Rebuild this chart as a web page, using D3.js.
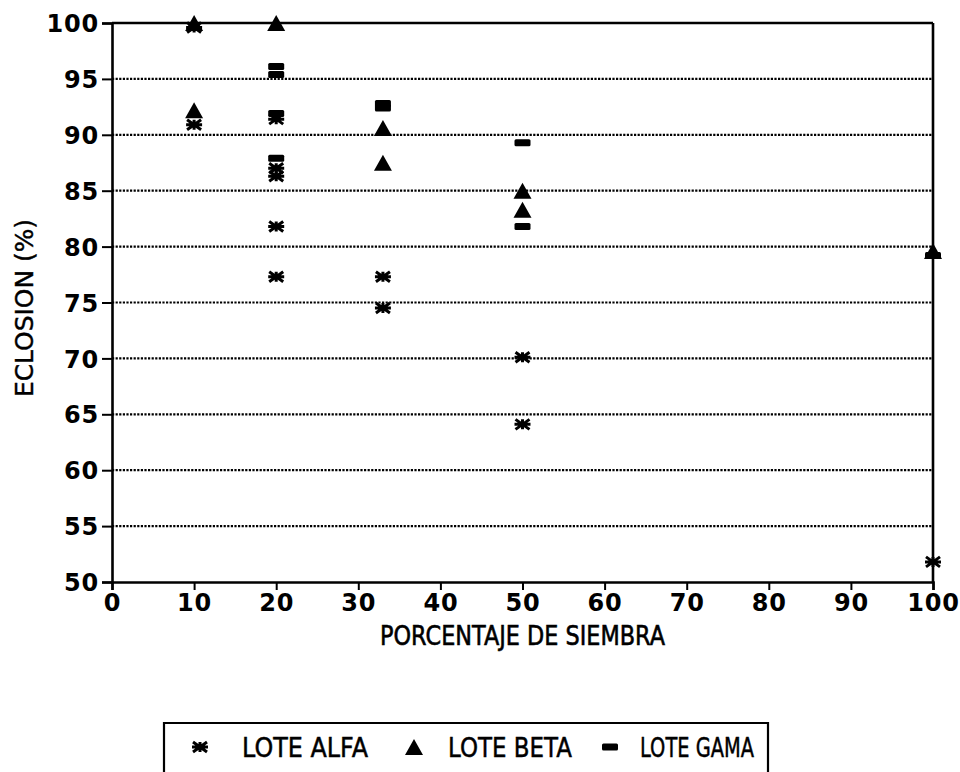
<!DOCTYPE html>
<html>
<head>
<meta charset="utf-8">
<script src="https://cdn.jsdelivr.net/npm/d3@7"></script>
<style>
  html, body { margin: 0; padding: 0; background: #fff; }
  svg { display: block; }
</style>
</head>
<body>
<svg id="chart" width="960" height="772"></svg>
<script>
// Hatching percentage by seeding percentage, three batches.
const loteAlfa = [[10, 99.6], [10, 90.9], [20, 91.4], [20, 87.0], [20, 86.3], [20, 81.8], [20, 77.3],
                  [33, 77.3], [33, 74.5], [50, 70.1], [50, 64.1], [100, 51.8]];
const loteBeta = [[10, 100], [10, 92.2], [20, 100], [33, 90.6], [33, 87.5], [50, 85.0], [50, 83.3], [100, 79.6]];
const loteGama = [[20, 96.1], [20, 95.4], [20, 91.9], [20, 87.9], [33, 92.8], [33, 92.4], [50, 89.3], [50, 81.8], [100, 79.2]];

const xTicks = [0, 10, 20, 30, 40, 50, 60, 70, 80, 90, 100];
const yTicks = [50, 55, 60, 65, 70, 75, 80, 85, 90, 95, 100];
const legendLabels = ["LOTE ALFA", "LOTE BETA", "LOTE GAMA"];

const svg = d3.select("#chart");
const plotLeft = 112, plotRight = 933, plotTop = 23, plotBottom = 582;

const x = d3.scaleLinear().domain([0, 100]).range([plotLeft, plotRight]);
const y = d3.scaleLinear().domain([50, 100]).range([plotBottom, plotTop]);

const ink = "#000";
const tickFont = "'DejaVu Sans', sans-serif";

// dotted horizontal grid
svg.append("g")
  .selectAll("line")
  .data(yTicks.filter(t => t > 50 && t < 100))
  .join("line")
  .attr("x1", plotLeft).attr("x2", plotRight)
  .attr("y1", d => y(d)).attr("y2", d => y(d))
  .attr("stroke", ink)
  .attr("stroke-width", 2.2)
  .attr("stroke-dasharray", "2.2,1.4");

// frame: top and right border
svg.append("line").attr("x1", plotLeft).attr("x2", plotRight).attr("y1", y(100)).attr("y2", y(100))
  .attr("stroke", ink).attr("stroke-width", 2.6);
svg.append("line").attr("x1", plotRight).attr("x2", plotRight).attr("y1", y(100)).attr("y2", y(50))
  .attr("stroke", ink).attr("stroke-width", 2.6);

// axes
const yAxis = d3.axisLeft(y).tickValues(yTicks).tickSize(10).tickPadding(3).tickFormat(d3.format("d"));
const xAxis = d3.axisBottom(x).tickValues(xTicks).tickSize(8).tickPadding(3).tickFormat(d3.format("d"));

const gy = svg.append("g").attr("transform", `translate(${plotLeft},0)`).call(yAxis);
const gx = svg.append("g").attr("transform", `translate(0,${plotBottom})`).call(xAxis);

[gx, gy].forEach(g => {
  g.select(".domain").attr("stroke", ink).attr("stroke-width", 2.6);
  g.selectAll(".tick line").attr("stroke", ink).attr("stroke-width", 2);
  g.selectAll(".tick text")
    .attr("fill", ink)
    .attr("font-family", tickFont)
    .attr("font-weight", "bold")
    .attr("font-size", 24)
    .attr("letter-spacing", 0.8);
});
gy.selectAll(".tick text").attr("dy", "0.36em");
gx.selectAll(".tick text").attr("dy", "0.76em");

// axis titles
svg.append("text")
  .attr("x", (plotLeft + plotRight) / 2).attr("y", 645)
  .attr("text-anchor", "middle")
  .attr("font-family", tickFont)
  .attr("font-size", 26)
  .attr("textLength", 285)
  .attr("lengthAdjust", "spacingAndGlyphs")
  .attr("fill", ink)
  .attr("stroke", ink).attr("stroke-width", 0.6)
  .text("PORCENTAJE DE SIEMBRA");

svg.append("text")
  .attr("transform", `translate(33,308) rotate(-90)`)
  .attr("text-anchor", "middle")
  .attr("font-family", tickFont)
  .attr("font-size", 24)
  .attr("textLength", 178)
  .attr("lengthAdjust", "spacingAndGlyphs")
  .attr("fill", ink)
  .attr("stroke", ink).attr("stroke-width", 0.4)
  .text("ECLOSION (%)");

// marker shapes
function drawStar(sel) {
  sel.append("path")
    .attr("d", "M-8,0H8M-7,-5L7,5M-7,5L7,-5M0,-5V5")
    .attr("stroke", ink).attr("stroke-width", 3).attr("fill", "none");
}
function drawTriangle(sel) {
  sel.append("path")
    .attr("d", "M0,-8L9,8H-9Z")
    .attr("fill", ink);
}
function drawDash(sel) {
  sel.append("rect")
    .attr("x", -8).attr("y", -3.5).attr("width", 16).attr("height", 7).attr("rx", 1.5)
    .attr("fill", ink);
}

const series = [
  { data: loteAlfa, draw: drawStar },
  { data: loteBeta, draw: drawTriangle },
  { data: loteGama, draw: drawDash }
];

series.forEach(s => {
  svg.append("g")
    .selectAll("g")
    .data(s.data)
    .join("g")
    .attr("transform", d => `translate(${x(d[0])},${y(d[1])})`)
    .each(function () { s.draw(d3.select(this)); });
});

// legend
const legend = svg.append("g");
legend.append("path")
  .attr("d", "M164,780V723H768V780")
  .attr("fill", "none").attr("stroke", ink).attr("stroke-width", 2.2);

const legendItems = [
  { label: legendLabels[0], mx: 200, tx: 242, tw: 126, draw: drawStar },
  { label: legendLabels[1], mx: 414, tx: 448, tw: 124, draw: drawTriangle },
  { label: legendLabels[2], mx: 610, tx: 640, tw: 114, draw: drawDash }
];
legendItems.forEach(it => {
  const g = legend.append("g").attr("transform", `translate(${it.mx},747)`);
  it.draw(g);
  legend.append("text")
    .attr("x", it.tx).attr("y", 757)
    .attr("font-family", tickFont)
    .attr("font-size", 27)
    .attr("textLength", it.tw)
    .attr("lengthAdjust", "spacingAndGlyphs")
    .attr("fill", ink)
    .attr("stroke", ink).attr("stroke-width", 0.5)
    .text(it.label);
});
</script>
</body>
</html>
